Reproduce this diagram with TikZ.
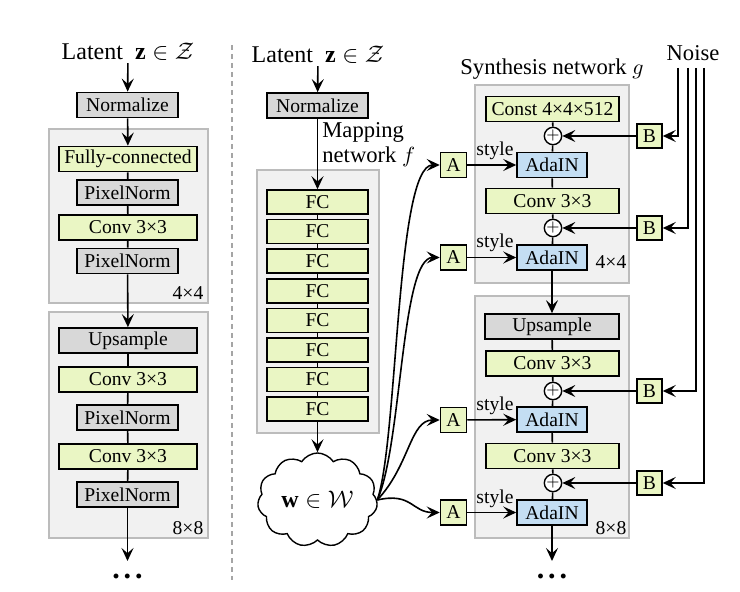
\documentclass[tikz,border=0pt]{standalone}
\usepackage{fontspec}
\setmainfont{Liberation Serif}
\usepackage{amsmath,amssymb}
\usetikzlibrary{positioning, arrows.meta, shapes}
\definecolor{verde}{RGB}{234, 246, 196}
\definecolor{gris}{RGB}{216, 216, 216}
\definecolor{azul}{RGB}{196, 222, 243}
\definecolor{fondo}{RGB}{241, 241, 241}
\definecolor{borde}{RGB}{188, 188, 188}
\definecolor{raya}{RGB}{165, 165, 165}
\newcommand{\bxfont}{\fontsize{9.8}{11}\selectfont}
\newcommand{\ttlfont}{\fontsize{11.3}{12.6}\selectfont}
\tikzset{
    panel/.style={draw=borde, fill=fondo, line width=0.6pt, inner sep=0pt},
    box/.style={draw, line width=0.75pt, inner sep=0pt, minimum height=12.6pt, font=\bxfont},
    grisN/.style={box, fill=gris, minimum width=50.5pt},
    grisW/.style={box, fill=gris, minimum width=69pt},
    verdeN/.style={box, fill=verde, minimum width=50.5pt},
    verdeW/.style={box, fill=verde, minimum width=69pt},
    verdeS/.style={box, fill=verde, minimum width=66.5pt},
    ada/.style={box, fill=azul, minimum width=35pt},
    sq/.style={box, fill=verde, minimum width=13pt},
    suma/.style={draw, circle, fill=white, line width=0.7pt, inner sep=0pt, minimum size=8pt, font=\fontsize{8}{8}\selectfont},
    lbl/.style={inner sep=1pt, font=\ttlfont},
    res/.style={inner sep=0pt, font=\bxfont},
    conn/.style={-, line width=0.8pt},
    arr/.style={-{Stealth[length=6.5pt, width=6pt, inset=2.6pt]}, line width=0.8pt},
    puntos/.style={inner sep=0pt, font=\fontsize{15}{15}\selectfont\bfseries},
}
\begin{document}
\begin{tikzpicture}[x=0.5pt, y=-0.5pt]
    \useasboundingbox (0,0) rectangle (740,592);

    \draw[raya, line width=0.6pt, dash pattern=on 2.5pt off 2pt] (232,45) -- (232,580);

    % traditional generator
    \node[lbl, font=\fontsize{12}{13}\selectfont] (latA) at (128,52) {Latent\hspace{6pt}$\mathbf{z}\in\mathcal{Z}$};
    \node[grisN] (normA) at (127.5,105) {Normalize};
    \node[panel, minimum width=79.5pt, minimum height=87pt] (pA1) at (128.5,216) {};
    \node[panel, minimum width=79.5pt, minimum height=113pt] (pA2) at (128.5,425) {};
    \node[verdeW] (fcA) at (128,159) {Fully-connected};
    \node[grisN] (pnA1) at (127.5,192.5) {PixelNorm};
    \node[verdeW] (cvA1) at (128,227.5) {Conv 3×3};
    \node[grisN] (pnA2) at (127.5,261) {PixelNorm};
    \node[res] (rA1) at (188,293) {4×4};
    \node[grisW] (upA) at (128,340.5) {Upsample};
    \node[verdeW] (cvA2) at (128,379.5) {Conv 3×3};
    \node[grisN] (pnA3) at (127.5,417.5) {PixelNorm};
    \node[verdeW] (cvA3) at (128,456.5) {Conv 3×3};
    \node[grisN] (pnA4) at (127.5,494.5) {PixelNorm};
    \node[res] (rA2) at (188,528) {8×8};
    \coordinate (endA) at (127.5,561);
    \node[puntos] (dotsA) at (127.5,576) {.\hspace{2pt}.\hspace{2pt}.};

    \draw[arr] (latA) -- (normA);
    \draw[arr] (normA) -- (fcA);
    \draw[conn] (fcA) -- (pnA1);
    \draw[conn] (pnA1) -- (cvA1);
    \draw[conn] (cvA1) -- (pnA2);
    \draw[arr] (pnA2) -- (upA);
    \draw[conn] (upA) -- (cvA2);
    \draw[conn] (cvA2) -- (pnA3);
    \draw[conn] (pnA3) -- (cvA3);
    \draw[conn] (cvA3) -- (pnA4);
    \draw[arr] (pnA4) -- (endA);

    % mapping network
    \node[lbl, font=\fontsize{12}{13}\selectfont] (latB) at (318,55) {Latent\hspace{6pt}$\mathbf{z}\in\mathcal{Z}$};
    \node[grisN] (normB) at (317.5,105.5) {Normalize};
    \node[lbl, anchor=west, align=left] (mapn) at (320,144.5) {Mapping\\network $f$};
    \node[panel, minimum width=61pt, minimum height=131.5pt] (pB) at (318,301.5) {};
    \foreach \i in {1,...,8}
        \node[verdeN, minimum height=12pt] (fc\i) at (317.5,{202+29.6*(\i-1)}) {FC};
    \node[draw, cloud, cloud puffs=11, cloud puff arc=115, aspect=1.3, line width=0.7pt,
        fill=white, minimum width=60pt, minimum height=47pt, inner sep=0pt,
        font=\fontsize{12}{12}\selectfont] (w) at (317.5,500) {$\mathbf{w}\in\mathcal{W}$};

    \draw[arr] (latB) -- (normB);
    \draw[arr] (normB) -- (fc1);
    \foreach \i [count=\j from 2] in {1,...,7}
        \draw[conn] (fc\i) -- (fc\j);
    \draw[arr] (fc8) -- (w);

    % synthesis network
    \node[lbl] (syn) at (552,69) {Synthesis network $g$};
    \node[lbl] (noise) at (693,53) {Noise};
    \node[panel, minimum width=77pt, minimum height=99pt] (pC1) at (552,184) {};
    \node[panel, minimum width=77pt, minimum height=121pt] (pC2) at (552,417) {};
    \node[verdeS] (const) at (552.5,109) {Const 4×4×512};
    \node[suma] (p1) at (553,136) {$+$};
    \node[ada] (ada1) at (552,165) {AdaIN};
    \node[verdeS] (cvC1) at (552.5,201) {Conv 3×3};
    \node[suma] (p2) at (553,228) {$+$};
    \node[ada] (ada2) at (552,257.5) {AdaIN};
    \node[res] (rC1) at (611,262) {4×4};
    \node[box, fill=gris, minimum width=67pt] (upC) at (552,326.5) {Upsample};
    \node[verdeS] (cvC2) at (552.5,363.5) {Conv 3×3};
    \node[suma] (p3) at (553,391) {$+$};
    \node[ada] (ada3) at (552,419.5) {AdaIN};
    \node[verdeS] (cvC3) at (552.5,456) {Conv 3×3};
    \node[suma] (p4) at (553,483) {$+$};
    \node[ada] (ada4) at (552,512.5) {AdaIN};
    \node[res] (rC2) at (611,528) {8×8};
    \coordinate (endC) at (552,561);
    \node[puntos] (dotsC) at (552,576) {.\hspace{2pt}.\hspace{2pt}.};

    \node[sq] (a1) at (453.5,165) {A};
    \node[sq] (a2) at (453.5,257.5) {A};
    \node[sq] (a3) at (453.5,420) {A};
    \node[sq] (a4) at (453.5,512.5) {A};
    \node[sq, minimum width=12.5pt, minimum height=12pt] (b1) at (649.5,136) {B};
    \node[sq, minimum width=12.5pt, minimum height=12pt] (b2) at (649.5,228) {B};
    \node[sq, minimum width=12.5pt, minimum height=12pt] (b3) at (649.5,391) {B};
    \node[sq, minimum width=12.5pt, minimum height=12pt] (b4) at (649.5,483) {B};
    \node[res] (st1) at (495,151) {style};
    \node[res] (st2) at (495,243) {style};
    \node[res] (st3) at (495,406) {style};
    \node[res] (st4) at (495,499) {style};

    \coordinate (n1) at (678,68);
    \coordinate (n2) at (688,68);
    \coordinate (n3) at (696,68);
    \coordinate (n4) at (704,68);

    \draw[conn] (const) -- (p1);
    \draw[conn] (p1) -- (ada1);
    \draw[conn] (ada1) -- (cvC1);
    \draw[conn] (cvC1) -- (p2);
    \draw[conn] (p2) -- (ada2);
    \draw[arr] (ada2) -- (upC);
    \draw[conn] (upC) -- (cvC2);
    \draw[conn] (cvC2) -- (p3);
    \draw[conn] (p3) -- (ada3);
    \draw[conn] (ada3) -- (cvC3);
    \draw[conn] (cvC3) -- (p4);
    \draw[conn] (p4) -- (ada4);
    \draw[arr] (ada4) -- (endC);

    \draw[arr] (a1) -- (ada1);
    \draw[arr] (a2) -- (ada2);
    \draw[arr] (a3) -- (ada3);
    \draw[arr] (a4) -- (ada4);
    \draw[arr] (b1) -- (p1);
    \draw[arr] (b2) -- (p2);
    \draw[arr] (b3) -- (p3);
    \draw[arr] (b4) -- (p4);
    \draw[arr] (n1) |- (b1);
    \draw[arr] (n2) |- (b2);
    \draw[arr] (n3) |- (b3);
    \draw[arr] (n4) |- (b4);

    \draw[arr] (w.east) .. controls (398,440) and (396,165) .. (a1.west);
    \draw[arr] (w.east) .. controls (402,445) and (401,257.5) .. (a2.west);
    \draw[arr] (w.east) .. controls (410,465) and (410,420) .. (a3.west);
    \draw[arr] (w.east) .. controls (412,492) and (412,512.5) .. (a4.west);
\end{tikzpicture}
\end{document}
